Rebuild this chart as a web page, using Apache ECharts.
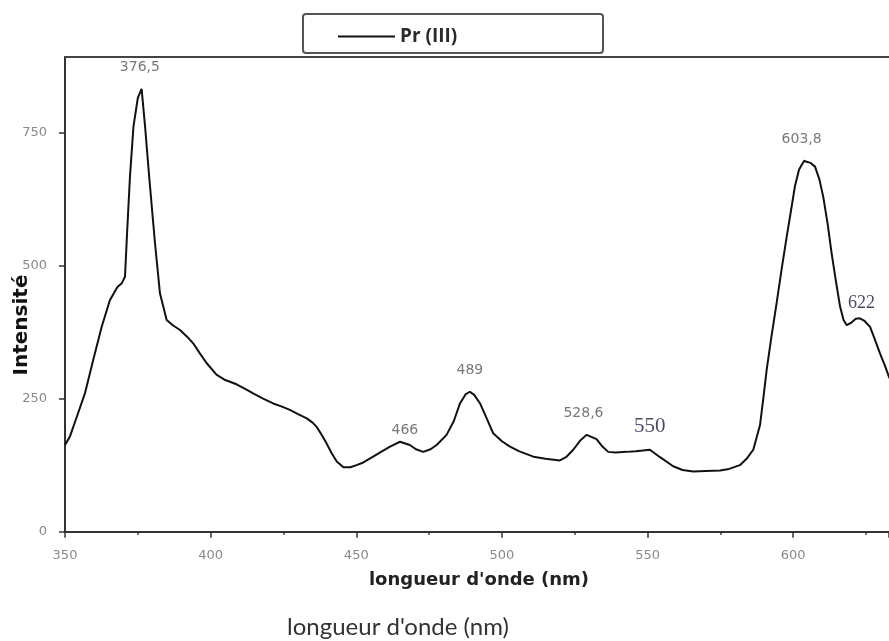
<!DOCTYPE html>
<html>
<head>
<meta charset="utf-8">
<script src="https://cdn.jsdelivr.net/npm/echarts@6/dist/echarts.min.js"></script>
<style>html,body{margin:0;padding:0;background:#fff}#c{width:889px;height:641px}</style>
</head>
<body>
<div id="c"></div>
<script>
// Wavelength (nm)
var wavelength = [350, 351.7, 354, 356.9, 359.7, 362.6, 365.4, 368, 369.5, 370.6, 371.3, 372.3, 373.5, 375, 376.3, 377.5, 378.9, 380.9, 382.6, 384.9, 387, 389.5, 392, 394, 396.3, 398.6, 402, 405, 408.9, 412, 414.6, 418, 421.5, 424.5, 427.2, 430, 433, 435, 436.4, 438, 439.8, 441.5, 443.3, 445.6, 448, 450.1, 452, 455.8, 458.5, 461.6, 465, 468.4, 470.5, 473, 475.5, 477.6, 481, 483.5, 485.6, 487.5, 489, 490.5, 492.5, 495, 497, 500, 502.8, 506, 510.8, 515, 519.9, 522, 524.5, 527, 529.1, 532.5, 534.5, 536.5, 539, 542.8, 546, 550.8, 554.3, 558.8, 562, 565.7, 570, 574.9, 578, 581.7, 584, 586.3, 588.6, 589.7, 590.9, 592.5, 594.3, 596, 597.8, 599.3, 600.6, 602, 602.9, 603.8, 604.6, 606, 607.5, 609, 610.3, 611.8, 613.2, 614.7, 616.1, 617.3, 618.4, 620, 621.5, 622.9, 624.5, 626.4, 628, 629.8, 631.5, 632.9, 635, 638, 641];
// Intensity
var intensity = [163, 179, 215, 261, 323, 385, 435, 460, 467, 479, 560, 667, 761, 815, 832, 761, 667, 542, 448, 398, 388, 379, 366, 354, 335, 317, 295, 285, 277, 268, 260, 250, 241, 235, 229, 221, 213, 205, 197, 183, 166, 148, 132, 121, 121, 125, 129, 141, 150, 160, 169, 163, 155, 150, 155, 163, 182, 208, 241, 258, 263, 257, 241, 210, 185, 170, 160, 151, 141, 137, 134, 140, 154, 172, 182, 174, 160, 150, 149, 150, 151, 154, 140, 123, 116, 113, 114, 115, 118, 125, 137, 154, 200, 248, 304, 365, 429, 492, 555, 605, 649, 680, 689, 697, 695, 693, 686, 662, 630, 580, 523, 470, 423, 398, 388, 393, 400, 401, 396, 385, 362, 335, 312, 291, 265, 235, 210];
// Peak annotations
var peakText = ['376,5', '466', '489', '528,6', '550', '603,8', '622'];
var peakX = [375.7, 466.7, 489, 528, 550.8, 602.9, 623.5];
var peakY = [872, 191, 304, 222, 197, 738, 429];
var peakSerif = [false, false, false, false, true, false, true];
// Axis ticks
var xTicks = [350, 400, 450, 500, 550, 600];
var yTicks = [0, 250, 500, 750];
var seriesName = 'Pr (III)';

var lineData = wavelength.map(function (w, i) { return [w, intensity[i]]; });
var peakData = peakText.map(function (t, i) {
  return {
    value: [peakX[i], peakY[i]],
    label: peakSerif[i]
      ? { fontFamily: 'Liberation Serif', fontSize: (t === '550' ? 21 : 18), color: '#1a1a3a' }
      : { fontFamily: 'DejaVu Sans', fontSize: 14, color: '#555' },
    name: t
  };
});

var chart = echarts.init(document.getElementById('c'), null, { renderer: 'canvas' });
chart.setOption({
  animation: false,
  backgroundColor: '#fff',
  grid: { left: 65, top: 57, right: 0, bottom: 109.3, show: false, containLabel: false },
  legend: {
    data: [{ name: seriesName, icon: 'rect' }],
    left: 333, top: 22, itemWidth: 57, itemHeight: 2, itemGap: 8, z: 10,
    textStyle: { fontFamily: 'Open Sans', fontWeight: 'bold', fontSize: 19, color: '#2a2a2a' }
  },
  xAxis: [{
    type: 'value', min: 350, max: 632.9, interval: 50,
    axisLine: { show: true, onZero: false, lineStyle: { color: '#333', width: 2 } },
    axisTick: { show: true, length: 6, lineStyle: { color: '#333', width: 1.5 } },
    minorTick: { show: true, splitNumber: 2, length: 3, lineStyle: { color: '#333', width: 1.5 } },
    axisLabel: { fontFamily: 'DejaVu Sans', fontSize: 13, color: '#888', margin: 17, showMaxLabel: false,
      formatter: function (v) { return xTicks.indexOf(v) >= 0 ? String(v) : ''; } },
    splitLine: { show: false }
  }, {
    type: 'value', position: 'top', min: 350, max: 632.9,
    axisLine: { show: true, onZero: false, lineStyle: { color: '#444', width: 2 } },
    axisTick: { show: false }, axisLabel: { show: false }, splitLine: { show: false }
  }],
  yAxis: {
    type: 'value', min: 0, max: 892, interval: 250,
    axisLine: { show: true, lineStyle: { color: '#333', width: 2 } },
    axisTick: { show: true, length: 6, lineStyle: { color: '#333', width: 1.5 } },
    axisLabel: { fontFamily: 'DejaVu Sans', fontSize: 13, color: '#888', margin: 18, showMaxLabel: false,
      formatter: function (v) { return yTicks.indexOf(v) >= 0 ? String(v) : ''; } },
    splitLine: { show: false }
  },
  series: [
    {
      name: seriesName, type: 'line', data: lineData, showSymbol: false, symbol: 'none',
      lineStyle: { color: '#111', width: 2 }, itemStyle: { color: '#111' }, clip: true, z: 3
    },
    {
      name: 'peaks', type: 'scatter', data: peakData, symbolSize: 0, silent: true, z: 4, clip: false,
      label: { show: true, position: 'inside', formatter: function (p) { return p.name; } }
    }
  ],
  graphic: [
    { type: 'rect', z: 1, shape: { x: 303, y: 14, width: 300, height: 39, r: 3 },
      style: { fill: '#fff', stroke: '#555', lineWidth: 2 } },
    { type: 'text', z: 5, x: 22, y: 325, rotation: Math.PI / 2,
      style: { text: 'Intensité', fontFamily: 'DejaVu Sans', fontWeight: 'bold', fontSize: 20, fill: '#111', textAlign: 'center', textVerticalAlign: 'middle' } },
    { type: 'text', z: 5, x: 479, y: 580,
      style: { text: "longueur d'onde (nm)", fontFamily: 'DejaVu Sans', fontWeight: 'bold', fontSize: 18, fill: '#222', textAlign: 'center', textVerticalAlign: 'middle' } },
    { type: 'text', z: 5, x: 398, y: 627,
      style: { text: "longueur d'onde (nm)", fontFamily: 'Lato', fontSize: 24, fill: '#333', textAlign: 'center', textVerticalAlign: 'middle' } }
  ]
});
</script>
</body>
</html>
